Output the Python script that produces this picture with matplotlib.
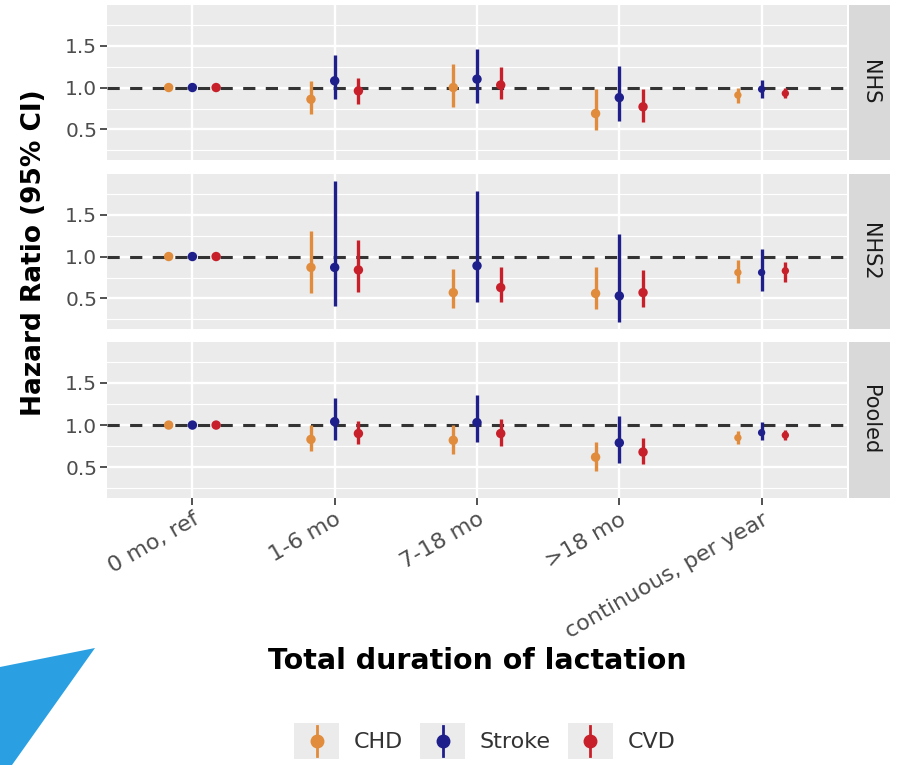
import numpy as np
import matplotlib
matplotlib.use("Agg")
import matplotlib.pyplot as plt
from matplotlib.lines import Line2D
from matplotlib.patches import Rectangle, Polygon
from matplotlib.legend_handler import HandlerBase

# categories on the x axis
durations = ["0 mo, ref", "1-6 mo", "7-18 mo", ">18 mo", "continuous, per year"]
cohorts = ["NHS", "NHS2", "Pooled"]
outcomes = ["CHD", "Stroke", "CVD"]
colors = {"CHD": "#E08C3C", "Stroke": "#1F1F8C", "CVD": "#C8202A"}

# hazard ratios (point, lower, upper)
nhs_chd_hr = [1.00, 0.86, 1.00, 0.69, 0.91]
nhs_chd_lo = [1.00, 0.68, 0.77, 0.49, 0.81]
nhs_chd_hi = [1.00, 1.08, 1.28, 0.98, 1.00]
nhs_stroke_hr = [1.00, 1.08, 1.10, 0.88, 0.98]
nhs_stroke_lo = [1.00, 0.86, 0.82, 0.60, 0.87]
nhs_stroke_hi = [1.00, 1.39, 1.46, 1.26, 1.09]
nhs_cvd_hr = [1.00, 0.96, 1.03, 0.77, 0.93]
nhs_cvd_lo = [1.00, 0.80, 0.86, 0.59, 0.87]
nhs_cvd_hi = [1.00, 1.11, 1.25, 0.98, 1.00]

nhs2_chd_hr = [1.00, 0.87, 0.57, 0.56, 0.81]
nhs2_chd_lo = [1.00, 0.57, 0.39, 0.38, 0.68]
nhs2_chd_hi = [1.00, 1.31, 0.85, 0.87, 0.96]
nhs2_stroke_hr = [1.00, 0.87, 0.89, 0.53, 0.81]
nhs2_stroke_lo = [1.00, 0.41, 0.46, 0.22, 0.59]
nhs2_stroke_hi = [1.00, 1.90, 1.78, 1.27, 1.09]
nhs2_cvd_hr = [1.00, 0.84, 0.63, 0.57, 0.83]
nhs2_cvd_lo = [1.00, 0.58, 0.46, 0.40, 0.70]
nhs2_cvd_hi = [1.00, 1.20, 0.88, 0.84, 0.94]

pooled_chd_hr = [1.00, 0.83, 0.82, 0.62, 0.85]
pooled_chd_lo = [1.00, 0.69, 0.66, 0.45, 0.77]
pooled_chd_hi = [1.00, 1.00, 1.00, 0.80, 0.93]
pooled_stroke_hr = [1.00, 1.04, 1.03, 0.79, 0.91]
pooled_stroke_lo = [1.00, 0.82, 0.80, 0.55, 0.82]
pooled_stroke_hi = [1.00, 1.32, 1.36, 1.11, 1.04]
pooled_cvd_hr = [1.00, 0.90, 0.90, 0.68, 0.88]
pooled_cvd_lo = [1.00, 0.77, 0.75, 0.54, 0.82]
pooled_cvd_hi = [1.00, 1.05, 1.07, 0.85, 0.94]

data = {
    "NHS": {"CHD": (nhs_chd_hr, nhs_chd_lo, nhs_chd_hi),
            "Stroke": (nhs_stroke_hr, nhs_stroke_lo, nhs_stroke_hi),
            "CVD": (nhs_cvd_hr, nhs_cvd_lo, nhs_cvd_hi)},
    "NHS2": {"CHD": (nhs2_chd_hr, nhs2_chd_lo, nhs2_chd_hi),
             "Stroke": (nhs2_stroke_hr, nhs2_stroke_lo, nhs2_stroke_hi),
             "CVD": (nhs2_cvd_hr, nhs2_cvd_lo, nhs2_cvd_hi)},
    "Pooled": {"CHD": (pooled_chd_hr, pooled_chd_lo, pooled_chd_hi),
               "Stroke": (pooled_stroke_hr, pooled_stroke_lo, pooled_stroke_hi),
               "CVD": (pooled_cvd_hr, pooled_cvd_lo, pooled_cvd_hi)},
}

panel_bg = "#EBEBEB"
strip_bg = "#D9D9D9"
W, H = 898, 765

# shared y range, ggplot style 5% expansion
all_lo = min(min(data[c][o][1]) for c in cohorts for o in outcomes)
all_hi = max(max(data[c][o][2]) for c in cohorts for o in outcomes)
pad = 0.05 * (all_hi - all_lo)
ylim = (all_lo - pad, all_hi + pad)


class PointRangeHandler(HandlerBase):
    def create_artists(self, legend, orig_handle, xdescent, ydescent,
                       width, height, fontsize, trans):
        x0, y0 = -xdescent, -ydescent
        cx = x0 + width / 2
        col = orig_handle.get_color()
        bg = Rectangle((x0, y0), width, height, facecolor=panel_bg,
                       edgecolor="none", transform=trans)
        seg = Line2D([cx, cx], [y0 + 0.08 * height, y0 + 0.92 * height],
                     color=col, lw=2.0, transform=trans)
        pt = Line2D([cx], [y0 + height / 2], marker="o", ms=9, color=col,
                    linestyle="none", transform=trans)
        return [bg, seg, pt]


fig = plt.figure(figsize=(W / 100, H / 100), dpi=100)

# decorative blue shape in the lower left corner
fig.patches.append(Polygon([(0, 1 - 667 / H), (95 / W, 1 - 648 / H),
                            (12 / W, 0), (0, 0)], closed=True,
                           transform=fig.transFigure, facecolor="#2AA0E2",
                           edgecolor="none"))

panels_px = [(5, 160), (174, 329), (342, 498)]
left_px, right_px = 107, 847
x = np.arange(1, len(durations) + 1)
offsets = {"CHD": -0.1667, "Stroke": 0.0, "CVD": 0.1667}
sizes = np.array([46, 46, 46, 46, 28])

handles = []
for i, cohort in enumerate(cohorts):
    top, bot = panels_px[i]
    ax = fig.add_axes([left_px / W, 1 - bot / H, (right_px - left_px) / W, (bot - top) / H])
    ax.set_facecolor(panel_bg)
    for s in ax.spines.values():
        s.set_visible(False)
    ax.set_xlim(0.4, len(durations) + 0.6)
    ax.set_ylim(*ylim)
    ax.set_yticks([0.5, 1.0, 1.5])
    ax.set_yticklabels(["0.5", "1.0", "1.5"])
    ax.set_yticks([0.25, 0.75, 1.25, 1.75], minor=True)
    ax.set_xticks(x)
    ax.grid(which="major", color="white", lw=1.7)
    ax.grid(which="minor", axis="y", color="white", lw=0.8)
    ax.set_axisbelow(True)
    ax.tick_params(axis="y", which="major", labelsize=14.5, colors="#333333",
                   labelcolor="#4D4D4D", length=5, width=1.2, pad=2)
    ax.tick_params(axis="y", which="minor", length=0)
    if i < 2:
        ax.set_xticklabels([])
        ax.tick_params(axis="x", length=0)
    else:
        ax.tick_params(axis="x", colors="#333333", labelcolor="#4D4D4D",
                       length=5, width=1.2, pad=3)
        ax.set_xticklabels(durations, rotation=30, ha="right",
                           rotation_mode="anchor", fontsize=16)

    ax.axhline(1.0, color="#333333", lw=2.2, dashes=(4, 3.4), zorder=2)

    for o in outcomes:
        hr, lo, hi = (np.array(v) for v in data[cohort][o])
        xp = x + offsets[o]
        ax.vlines(xp, lo, hi, color=colors[o], lw=2.4, zorder=3)
        ax.scatter(xp, hr, s=sizes, color=colors[o], zorder=4, linewidths=0)
        if i == 0:
            handles.append(Line2D([], [], color=colors[o], label=o))

    # facet strip
    sax = fig.add_axes([849 / W, 1 - bot / H, 41 / W, (bot - top) / H])
    sax.set_facecolor(strip_bg)
    sax.set_xticks([])
    sax.set_yticks([])
    for s in sax.spines.values():
        s.set_visible(False)
    sax.text(0.5, 0.5, cohort, rotation=270, ha="center", va="center",
             fontsize=15, color="#1A1A1A", transform=sax.transAxes)

fig.text(34 / W, 1 - 253 / H, "Hazard Ratio (95% CI)", rotation=90,
         ha="center", va="center", fontsize=19, fontweight="bold")
fig.text(477 / W, 1 - 661 / H, "Total duration of lactation",
         ha="center", va="center", fontsize=20.5, fontweight="bold")

fig.legend(handles=handles, labels=outcomes, loc="center",
           bbox_to_anchor=(485 / W, 1 - 741 / H), ncol=3, frameon=False,
           fontsize=16, handlelength=2.0, handleheight=2.15,
           handletextpad=0.68, columnspacing=0.77, borderpad=0,
           handler_map={Line2D: PointRangeHandler()},
           labelcolor="#333333")

fig.savefig("out.png", dpi=100)
